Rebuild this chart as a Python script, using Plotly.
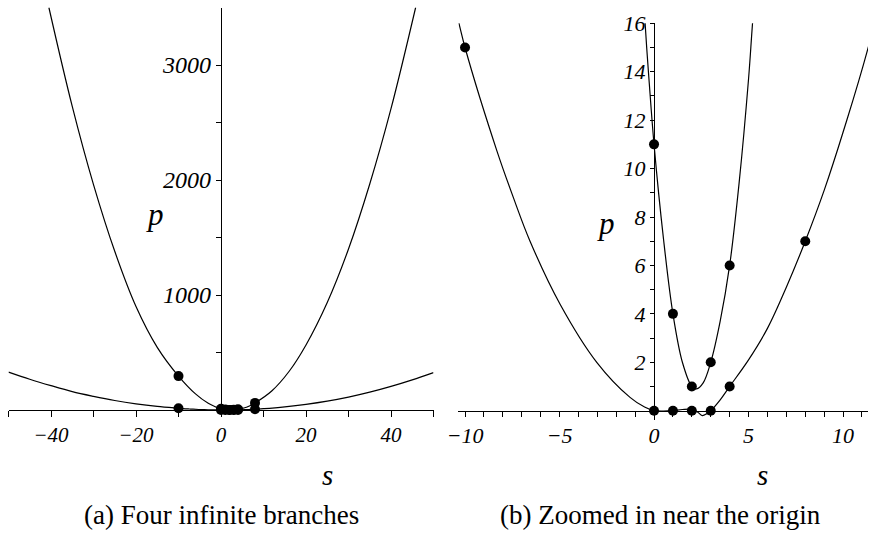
import plotly.graph_objects as go

W, H = 869, 533

# ---- data ----
# steep branch (two infinite branches joined through the U near s=2)
steep_s = [-40.5, -35, -30, -25, -20, -15, -10, -6, -3, -1.5, -0.48, -0.25, 0, 0.5, 1, 1.5, 2, 2.25, 2.6, 3, 3.5, 4,
           4.5, 5, 5.22, 6, 8, 12, 16, 20, 25, 30, 35, 40, 45.8]
steep_p = [3500, 2640, 1960, 1380, 900, 545, 295, 140, 58, 31, 16.1, 13.5, 11, 7.1, 4, 2.0, 1, 0.9, 1.15, 2, 3.7, 6,
           9.4, 13.7, 16.1, 24, 62, 168, 335, 566, 935, 1400, 1965, 2620, 3500]
# shallow branch (two infinite branches joined through the origin)
shallow_s = [-50, -45, -40, -35, -30, -25, -20, -15, -10.32, -10, -8.3, -7.44, -6.56, -4.97, -3.03, -1.27, -0.5, 0,
             0.5, 1, 1.5, 2, 2.3, 2.55, 2.8, 3, 3.5, 4, 5, 6, 7, 8, 9, 10, 11.4, 15, 20, 25, 30, 35, 40, 45, 50]
shallow_p = [330, 268, 212, 160, 119, 83, 54, 31.5, 16, 15, 10.7, 8.8, 7, 4.4, 2.0, 0.55, 0.15, 0,
             -0.02, 0, 0.05, 0.06, -0.05, -0.2, -0.12, 0, 0.45, 1, 2.1, 3.4, 5.1, 7, 9.1, 11.5, 15.2, 27, 49, 77,
             112, 155, 205, 262, 325]
# marked points
pts_s = [-10, 0, 1, 2, 3, 4, 8, -10, 0, 1, 2, 3, 4, 8]
pts_p = [295, 11, 4, 1, 2, 6, 62, 15, 0, 0, 0, 0, 1, 7]

# ticks
a_xtickvals = [-50, -40, -30, -20, -10, 0, 10, 20, 30, 40, 50]
a_xticktext = ["", "\u221240", "", "\u221220", "", "0", "", "20", "", "40", ""]
a_ytickvals = [500, 1000, 1500, 2000, 2500, 3000]
a_yticktext = ["", "1000", "", "2000", "", "3000"]
b_xtickvals = list(range(-10, 12))
b_xticktext = [("\u2212" + str(-v) if v < 0 else str(v)) if v % 5 == 0 else "" for v in b_xtickvals]
b_ytickvals = list(range(1, 17))
b_yticktext = [str(v) if v % 2 == 0 else "" for v in b_ytickvals]

# ---- layout geometry (pixels) ----
def px(x):
    return x / W

def py(y):
    return 1 - y / H

fig = go.Figure()
for xa, ya, clip in (("x", "y", False), ("x2", "y2", True)):
    fig.add_trace(go.Scatter(x=steep_s, y=steep_p, mode="lines", line=dict(color="black", width=1.2, shape="spline"),
                             xaxis=xa, yaxis=ya, showlegend=False, hoverinfo="skip"))
    fig.add_trace(go.Scatter(x=shallow_s, y=shallow_p, mode="lines", line=dict(color="black", width=1.2, shape="spline"),
                             xaxis=xa, yaxis=ya, showlegend=False, hoverinfo="skip"))
    fig.add_trace(go.Scatter(x=pts_s, y=pts_p, mode="markers", marker=dict(color="black", size=10),
                             xaxis=xa, yaxis=ya, showlegend=False, cliponaxis=clip, hoverinfo="skip"))

tick_font = dict(family="Liberation Serif", color="black", style="italic")
common = dict(showline=True, linecolor="black", linewidth=1.2, ticks="outside", tickcolor="black",
              tickwidth=1, showgrid=False, zeroline=False, tickmode="array", automargin=False)

fig.update_layout(
    template="none",
    width=W, height=H, autosize=False, margin=dict(l=0, r=0, t=0, b=0, pad=0),
    paper_bgcolor="white", plot_bgcolor="white", showlegend=False,
    xaxis=dict(domain=[px(8.5), px(433.5)], range=[-50, 50], anchor="free", position=py(410),
               tickvals=a_xtickvals, ticktext=a_xticktext, ticklen=6, tickfont=dict(size=21, **tick_font), **common),
    yaxis=dict(domain=[py(415.2), py(7.5)], range=[-45, 3500], anchor="free", position=px(221),
               tickvals=a_ytickvals, ticktext=a_yticktext, ticklen=5, tickfont=dict(size=24, **tick_font), **common),
    xaxis2=dict(domain=[px(458.4), px(868)], range=[-10.35, 11.32], anchor="free", position=py(410.7),
                tickvals=b_xtickvals, ticktext=b_xticktext, ticklen=5, tickfont=dict(size=22, **tick_font), **common),
    yaxis2=dict(domain=[py(420.4), py(23.3)], range=[-0.4, 16], anchor="free", position=px(654),
                tickvals=b_ytickvals, ticktext=b_yticktext, ticklen=4, tickfont=dict(size=22, **tick_font), **common),
)

lab_font = dict(family="Liberation Serif", color="black", style="italic")
cap_font = dict(family="Liberation Serif", color="black", size=27)
anns = [
    dict(text="p", x=px(154.5), y=py(214), font=dict(size=31, **lab_font)),
    dict(text="s", x=px(327), y=py(475), font=dict(size=29, **lab_font)),
    dict(text="p", x=px(605.5), y=py(223), font=dict(size=31, **lab_font)),
    dict(text="s", x=px(762), y=py(475), font=dict(size=29, **lab_font)),
    dict(text="(a) Four infinite branches", x=px(221.5), y=py(515), font=cap_font),
    dict(text="(b) Zoomed in near the origin", x=px(660.5), y=py(515), font=cap_font),
]
for a in anns:
    fig.add_annotation(xref="paper", yref="paper", showarrow=False, xanchor="center", yanchor="middle", **a)

fig.write_html("out.html", config={"responsive": False, "displayModeBar": False},
               post_script="document.body.style.margin='0';document.body.style.overflow='hidden';")
